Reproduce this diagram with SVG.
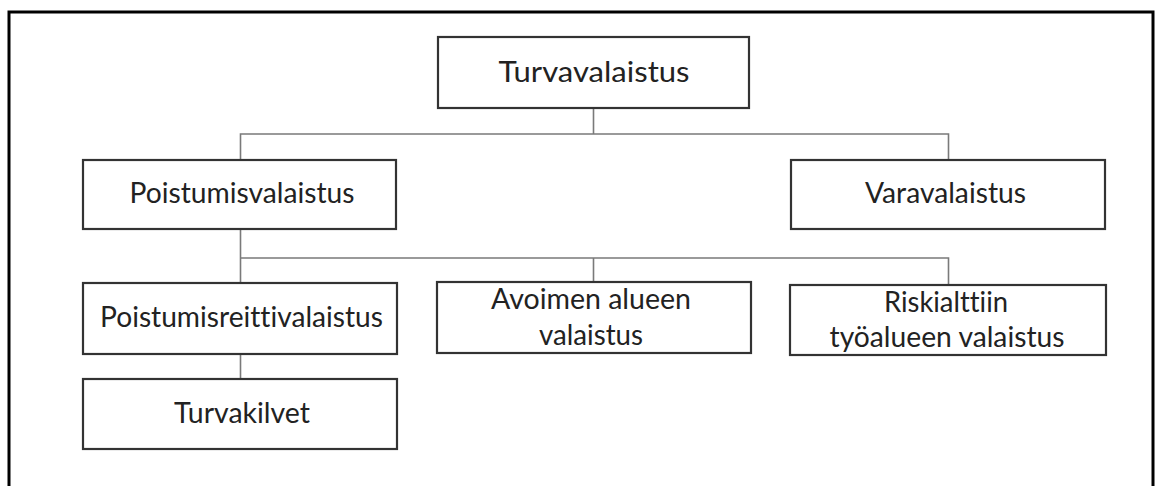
<svg xmlns="http://www.w3.org/2000/svg" width="1158" height="486" viewBox="0 0 1158 486">
<style>
.frame{fill:none;stroke:#000;stroke-width:3}
.box{fill:#fff;stroke:#333;stroke-width:2.2}
.conn{fill:none;stroke:#7a7a7a;stroke-width:1.6}
.lbl{font-family:Lato,"Open Sans",sans-serif;font-size:29px;fill:#222;text-anchor:middle;font-variant-ligatures:none;font-feature-settings:"liga" 0,"clig" 0}
</style>
<rect width="1158" height="486" fill="#fff"/>
<rect class="frame" x="9" y="12" width="1144" height="490"/>
<g id="connectors">
<path class="conn" d="M593.5,108 V134 M240.5,160 V134 H948.5 V160"/>
<path class="conn" d="M240.5,229 V283 M240.5,258 H948.5 V285 M593.5,258 V282"/>
<path class="conn" d="M240.5,354 V379"/>
</g>
<g id="n-turvavalaistus">
<rect class="box" x="438" y="37" width="311" height="71"/>
<text class="lbl" x="594" y="82" textLength="191" lengthAdjust="spacingAndGlyphs">Turvavalaistus</text>
</g>
<g id="n-poistumisvalaistus">
<rect class="box" x="83" y="160" width="313" height="69"/>
<text class="lbl" x="242" y="203" textLength="225" lengthAdjust="spacingAndGlyphs">Poistumisvalaistus</text>
</g>
<g id="n-varavalaistus">
<rect class="box" x="791" y="160" width="314" height="69"/>
<text class="lbl" x="945.5" y="203" textLength="161" lengthAdjust="spacingAndGlyphs">Varavalaistus</text>
</g>
<g id="n-poistumisreittivalaistus">
<rect class="box" x="83" y="283" width="314" height="71"/>
<text class="lbl" x="241.5" y="327" textLength="283" lengthAdjust="spacingAndGlyphs">Poistumisreittivalaistus</text>
</g>
<g id="n-avoimen">
<rect class="box" x="437" y="282" width="314" height="71"/>
<text class="lbl" x="591" y="309" textLength="200" lengthAdjust="spacingAndGlyphs">Avoimen alueen</text>
<text class="lbl" x="591" y="345" textLength="104" lengthAdjust="spacingAndGlyphs">valaistus</text>
</g>
<g id="n-riskialttiin">
<rect class="box" x="790" y="285" width="316" height="70"/>
<text class="lbl" x="946" y="312" textLength="124" lengthAdjust="spacingAndGlyphs">Riskialttiin</text>
<text class="lbl" x="947" y="347" textLength="235" lengthAdjust="spacingAndGlyphs">työalueen valaistus</text>
</g>
<g id="n-turvakilvet">
<rect class="box" x="83" y="379" width="314" height="70"/>
<text class="lbl" x="242" y="423" textLength="136" lengthAdjust="spacingAndGlyphs">Turvakilvet</text>
</g>
</svg>
